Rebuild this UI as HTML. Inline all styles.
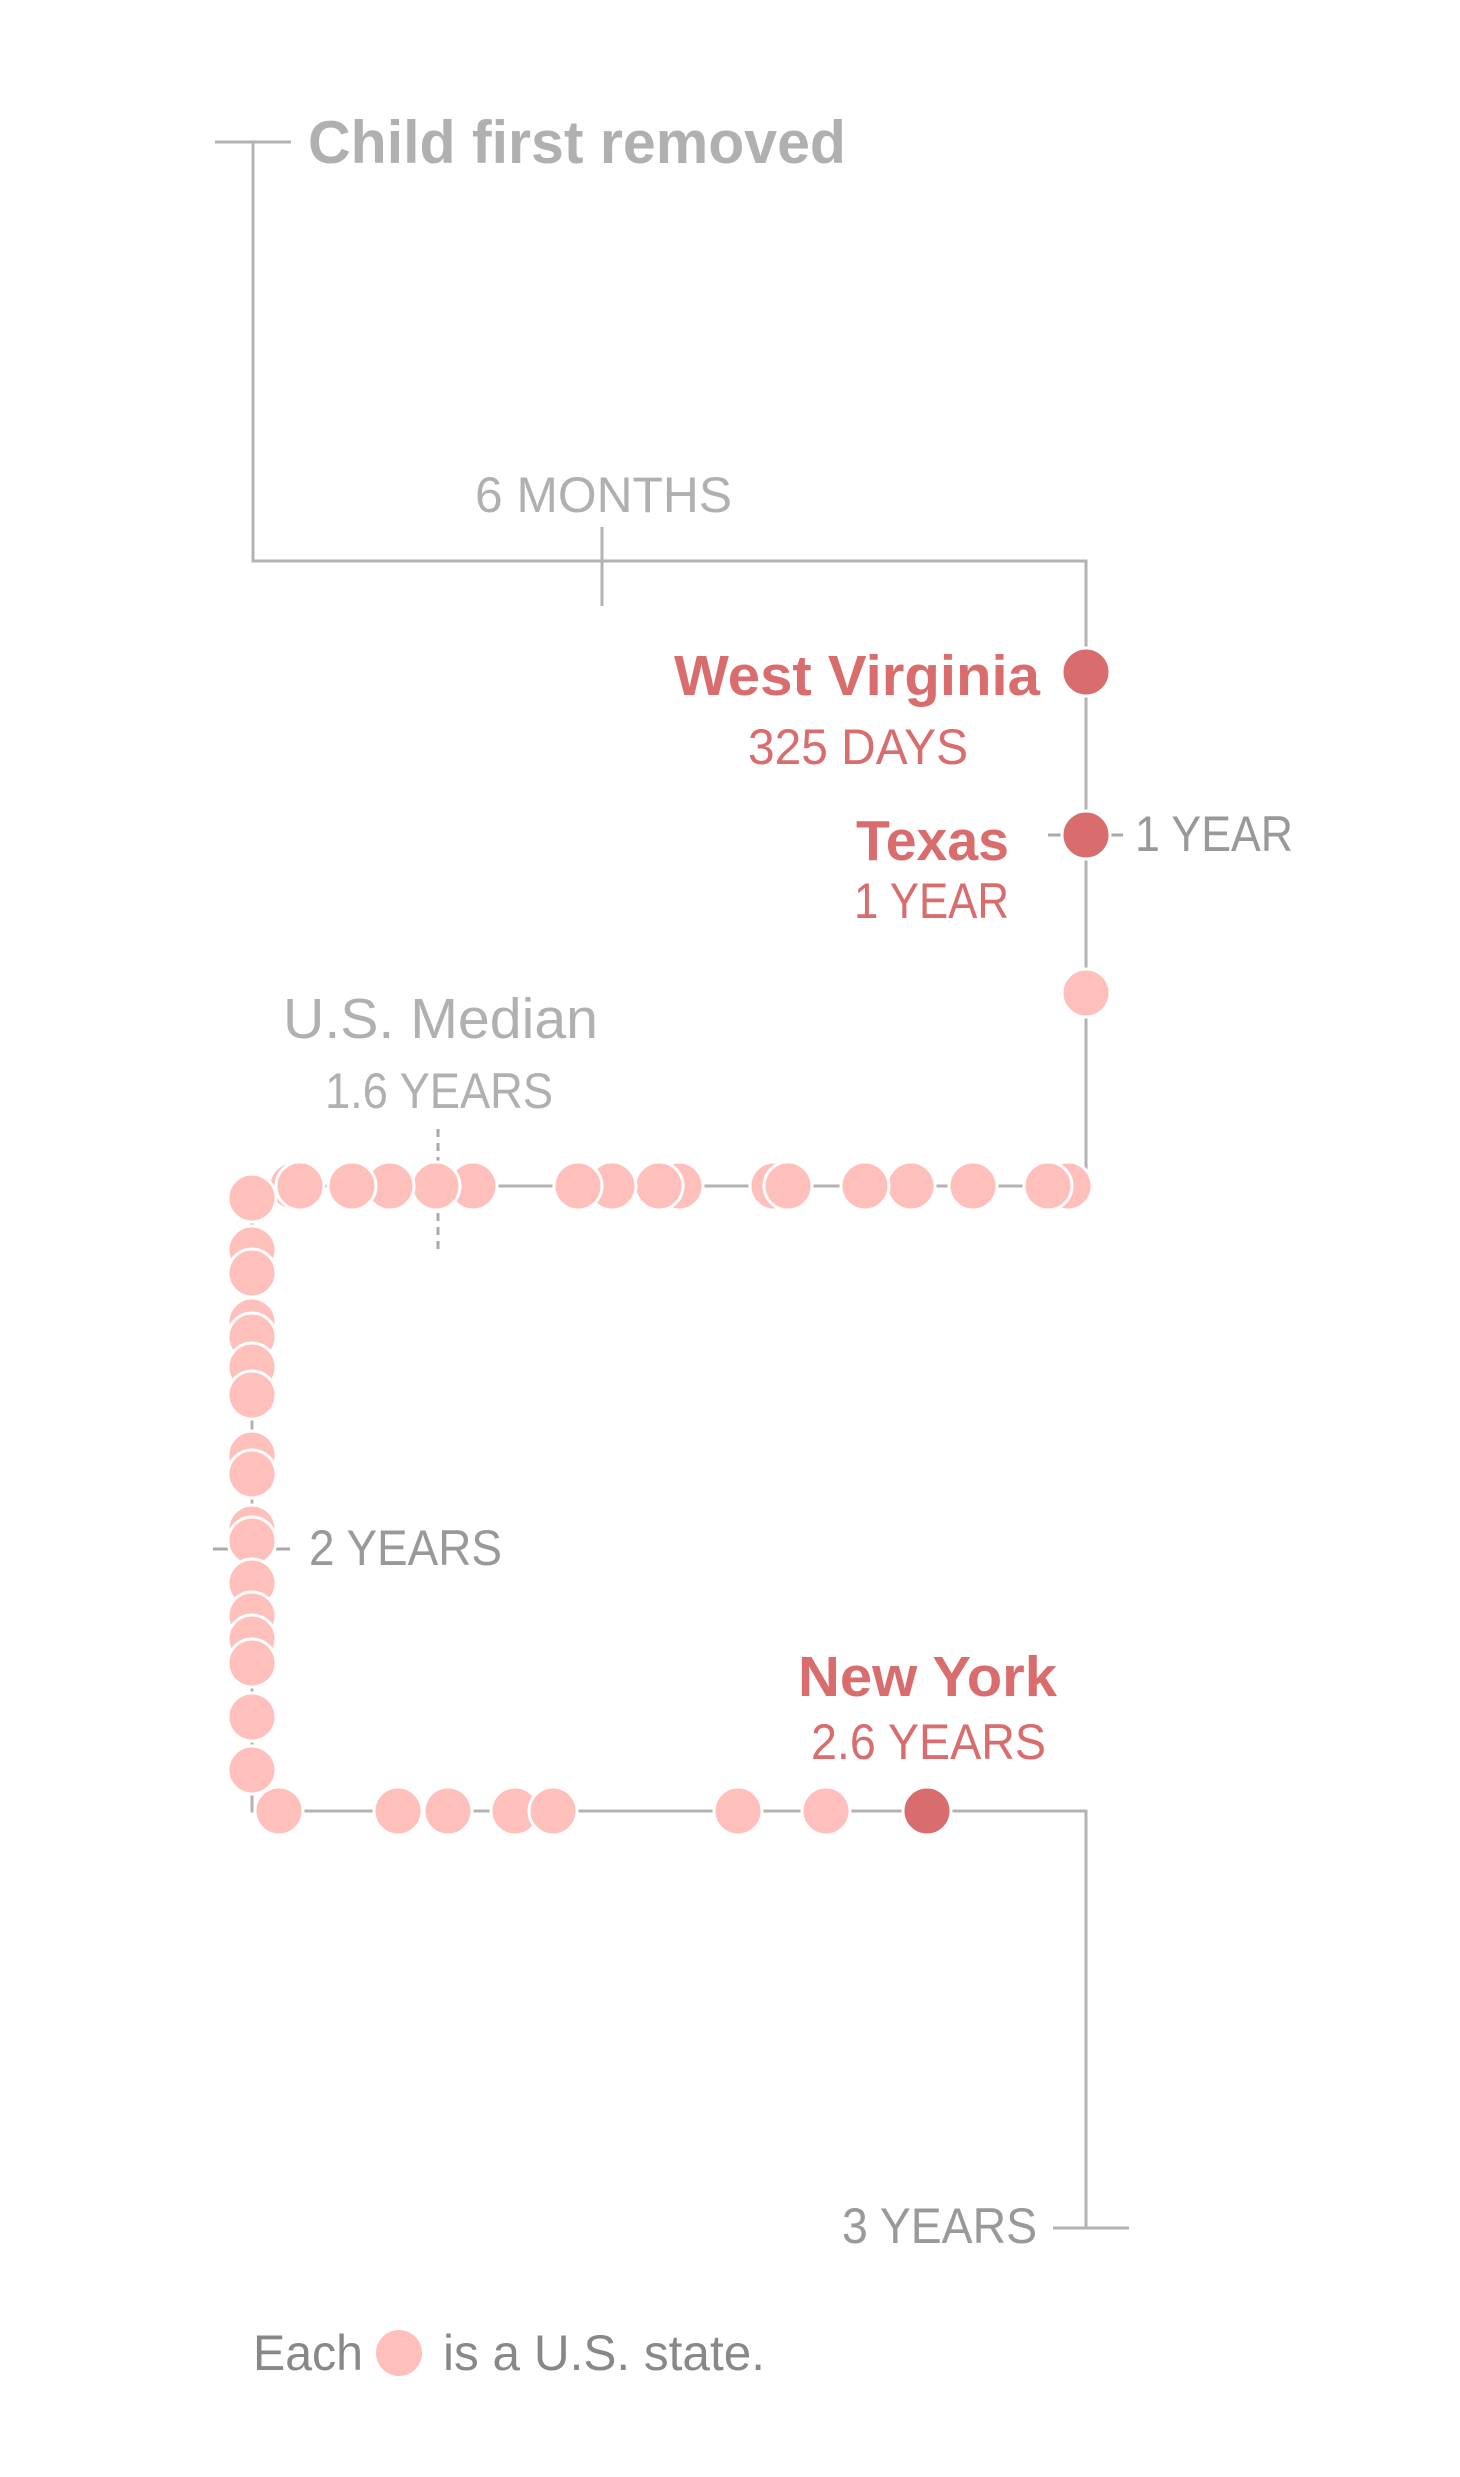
<!DOCTYPE html>
<html><head><meta charset="utf-8"><style>
html,body{margin:0;padding:0;background:#fff}
svg{display:block}
text{font-family:"Liberation Sans",sans-serif}
</style></head><body>
<svg width="1460" height="2477" viewBox="0 0 1460 2477" xmlns="http://www.w3.org/2000/svg">
<g transform="translate(-2,0)">
<g stroke="#b3b3b3" stroke-width="3" fill="none">
<line x1="217" y1="142" x2="293" y2="142"/>
<polyline points="255,142 255,561 1088,561 1088,1186 254,1186 254,1811 1088,1811 1088,2228"/>
<line x1="1055" y1="2228" x2="1131" y2="2228"/>
<line x1="604" y1="527" x2="604" y2="606"/>
<line x1="1050" y1="835" x2="1125" y2="835" stroke="#aaa"/>
<line x1="215" y1="1549" x2="292" y2="1549" stroke="#aaa"/>
<line x1="440" y1="1129" x2="440" y2="1252" stroke="#aaa" stroke-dasharray="8,6"/>
</g>
<text x="310" y="163" font-size="60" font-weight="bold" fill="#b0b0b0" textLength="538" lengthAdjust="spacingAndGlyphs">Child first removed</text>
<text x="477" y="512" font-size="50" fill="#b0b0b0" textLength="257" lengthAdjust="spacingAndGlyphs">6 MONTHS</text>
<text x="676" y="695" font-size="57" font-weight="bold" fill="#d96c6c" textLength="366" lengthAdjust="spacingAndGlyphs">West Virginia</text>
<text x="750" y="764" font-size="50" fill="#d96c6c" textLength="220" lengthAdjust="spacingAndGlyphs">325 DAYS</text>
<text x="858" y="860" font-size="57" font-weight="bold" fill="#d96c6c" textLength="153" lengthAdjust="spacingAndGlyphs">Texas</text>
<text x="856" y="918" font-size="50" fill="#d96c6c" textLength="155" lengthAdjust="spacingAndGlyphs">1 YEAR</text>
<text x="1137" y="851" font-size="50" fill="#999" textLength="158" lengthAdjust="spacingAndGlyphs">1 YEAR</text>
<text x="285" y="1038" font-size="57" fill="#b0b0b0" textLength="315" lengthAdjust="spacingAndGlyphs">U.S. Median</text>
<text x="327" y="1108" font-size="50" fill="#b0b0b0" textLength="228" lengthAdjust="spacingAndGlyphs">1.6 YEARS</text>
<text x="311" y="1565" font-size="50" fill="#999" textLength="193" lengthAdjust="spacingAndGlyphs">2 YEARS</text>
<text x="800" y="1696" font-size="57" font-weight="bold" fill="#d96c6c" textLength="259" lengthAdjust="spacingAndGlyphs">New York</text>
<text x="813" y="1759" font-size="50" fill="#d96c6c" textLength="235" lengthAdjust="spacingAndGlyphs">2.6 YEARS</text>
<text x="844" y="2243" font-size="50" fill="#999" textLength="195" lengthAdjust="spacingAndGlyphs">3 YEARS</text>
<text x="255" y="2370" font-size="50" fill="#888" textLength="110" lengthAdjust="spacingAndGlyphs">Each</text>
<circle cx="401" cy="2353" r="23" fill="#ffbfbb"/>
<text x="445" y="2370" font-size="50" fill="#888" textLength="322" lengthAdjust="spacingAndGlyphs">is a U.S. state.</text>
<g stroke="#fff" stroke-width="3">
<circle cx="1088" cy="672" r="24" fill="#d96c6c"/>
<circle cx="1088" cy="835" r="24" fill="#d96c6c"/>
<circle cx="1088" cy="993" r="24" fill="#ffbfbb"/>
<g fill="#ffbfbb">
<circle cx="1070" cy="1186" r="24"/><circle cx="1050" cy="1186" r="24"/>
<circle cx="975" cy="1186" r="24"/><circle cx="913" cy="1186" r="24"/><circle cx="867" cy="1186" r="24"/>
<circle cx="776" cy="1186" r="24"/><circle cx="790" cy="1186" r="24"/>
<circle cx="681" cy="1186" r="24"/><circle cx="661" cy="1186" r="24"/>
<circle cx="614" cy="1186" r="24"/><circle cx="580" cy="1186" r="24"/>
<circle cx="475" cy="1186" r="24"/><circle cx="438" cy="1186" r="24"/>
<circle cx="392" cy="1186" r="24"/><circle cx="354" cy="1186" r="24"/>
<circle cx="295" cy="1186" r="24"/><circle cx="302" cy="1186" r="24"/>
<circle cx="254" cy="1250" r="24"/><circle cx="254" cy="1273" r="24"/>
<circle cx="254" cy="1322" r="24"/><circle cx="254" cy="1337" r="24"/>
<circle cx="254" cy="1367" r="24"/><circle cx="254" cy="1395" r="24"/>
<circle cx="254" cy="1455" r="24"/><circle cx="254" cy="1474" r="24"/>
<circle cx="254" cy="1529" r="24"/><circle cx="254" cy="1541" r="24"/>
<circle cx="254" cy="1583" r="24"/><circle cx="254" cy="1616" r="24"/>
<circle cx="254" cy="1639" r="24"/><circle cx="254" cy="1663" r="24"/>
<circle cx="254" cy="1717" r="24"/><circle cx="254" cy="1770" r="24"/>
<circle cx="254" cy="1198" r="24"/>
<circle cx="281" cy="1811" r="24"/><circle cx="400" cy="1811" r="24"/>
<circle cx="450" cy="1811" r="24"/><circle cx="517" cy="1811" r="24"/>
<circle cx="555" cy="1811" r="24"/><circle cx="740" cy="1811" r="24"/>
<circle cx="828" cy="1811" r="24"/>
</g>
<circle cx="929" cy="1811" r="24" fill="#d96c6c"/>
</g>
</g>
</svg>
</body></html>
